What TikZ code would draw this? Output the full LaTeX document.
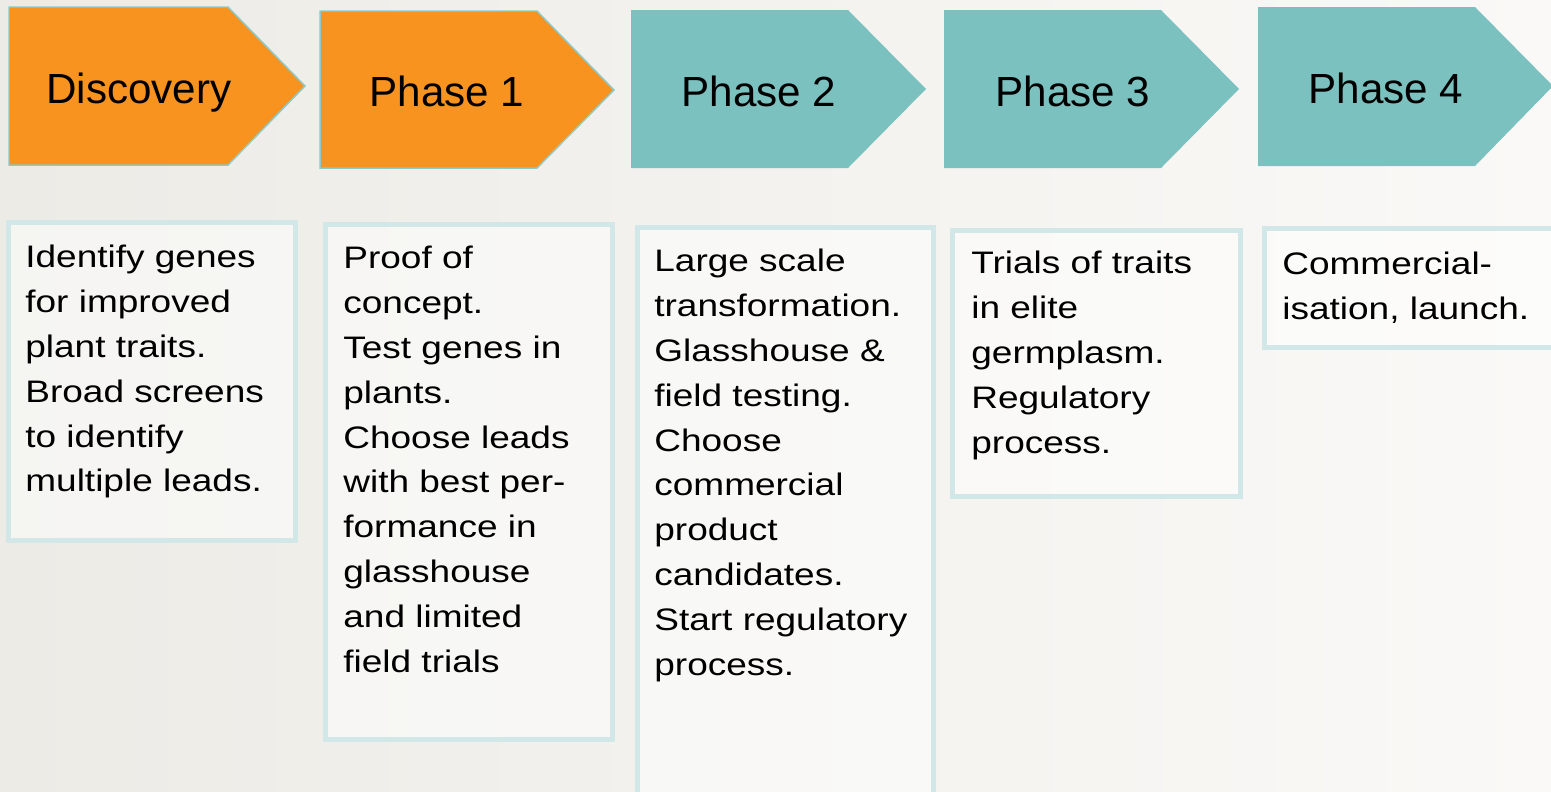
\documentclass[tikz,border=0pt]{standalone}
\usepackage{fontspec}
\setmainfont{Liberation Sans}
\newfontfamily\bodyfont{Liberation Sans}[FakeStretch=1.19]

\definecolor{phaseorange}{HTML}{F7931E}
\definecolor{phaseteal}{HTML}{7BC1C0}
\definecolor{chevronedge}{HTML}{8FCACA}
\definecolor{boxedge}{HTML}{D2E8E8}
\definecolor{fieldgrey}{HTML}{ECEBE6}
\definecolor{fieldlight}{HTML}{FAF9F7}

\begin{document}
\begin{tikzpicture}[x=0.02cm, y=-0.02cm]
	\tikzstyle{phasetitle} = [anchor=base, inner sep=0, font=\fontsize{24}{28}\selectfont]
	\tikzstyle{descbox} = [draw=boxedge, line width=0.1cm, fill=white, fill opacity=0.5, draw opacity=1, anchor=north west, inner sep=0, outer sep=0]
	\tikzstyle{desctext} = [anchor=north west, inner sep=0, align=left, font=\bodyfont\fontsize{17.7}{25.5}\selectfont]
	\useasboundingbox (0,0) rectangle (1551,791);
	\shade[left color=fieldgrey, right color=fieldlight] (0,0) rectangle (1551,791);

	% chevrons
	\filldraw[fill=phaseorange, draw=chevronedge, line width=0.03cm] (9,7) -- (228,7) -- (305,86) -- (228,165) -- (9,165) -- cycle;
	\filldraw[fill=phaseorange, draw=chevronedge, line width=0.03cm] (320,11) -- (537,11) -- (614,90) -- (537,168) -- (320,168) -- cycle;
	\fill[phaseteal] (631,10) -- (848,10) -- (926,89) -- (848,168) -- (631,168) -- cycle;
	\fill[phaseteal] (944,10) -- (1161,10) -- (1239,89) -- (1161,168) -- (944,168) -- cycle;
	\fill[phaseteal] (1258,7) -- (1475,7) -- (1553,86) -- (1475,166) -- (1258,166) -- cycle;
	\node[phasetitle] (Discovery) at (139, 103) {Discovery};
	\node[phasetitle] (PhaseOne) at (447, 106.5) {Phase 1};
	\node[phasetitle] (PhaseTwo) at (759, 106) {Phase 2};
	\node[phasetitle] (PhaseThree) at (1073, 106) {Phase 3};
	\node[phasetitle] (PhaseFour) at (1386, 103.5) {Phase 4};

	% description boxes
	\node[descbox, minimum width=5.74cm, minimum height=6.36cm] (DiscoveryBox) at (8.5, 222.5) {};
	\node[descbox, minimum width=5.74cm, minimum height=10.3cm] (PhaseOneBox) at (325.5, 224.5) {};
	\node[descbox, minimum width=5.92cm, minimum height=11.5cm] (PhaseTwoBox) at (637.5, 227.5) {};
	\node[descbox, minimum width=5.76cm, minimum height=5.32cm] (PhaseThreeBox) at (952.5, 230.5) {};
	\node[descbox, minimum width=5.78cm, minimum height=2.38cm] (PhaseFourBox) at (1264.5, 228.5) {};
	\node[desctext] (DiscoveryText) at (25, 245) {Identify genes\\for improved\\plant traits.\\Broad screens\\to identify\\multiple leads.};
	\node[desctext] (PhaseOneText) at (343, 246) {Proof of\\concept.\\Test genes in\\plants.\\Choose leads\\with best per-\\formance in\\glasshouse\\and limited\\field trials};
	\node[desctext] (PhaseTwoText) at (654, 249) {Large scale\\transformation.\\Glasshouse \&\\field testing.\\Choose\\commercial\\product\\candidates.\\Start regulatory\\process.};
	\node[desctext] (PhaseThreeText) at (971, 251) {Trials of traits\\in elite\\germplasm.\\Regulatory\\process.};
	\node[desctext] (PhaseFourText) at (1282, 252) {Commercial-\\isation, launch.};
\end{tikzpicture}
\end{document}
